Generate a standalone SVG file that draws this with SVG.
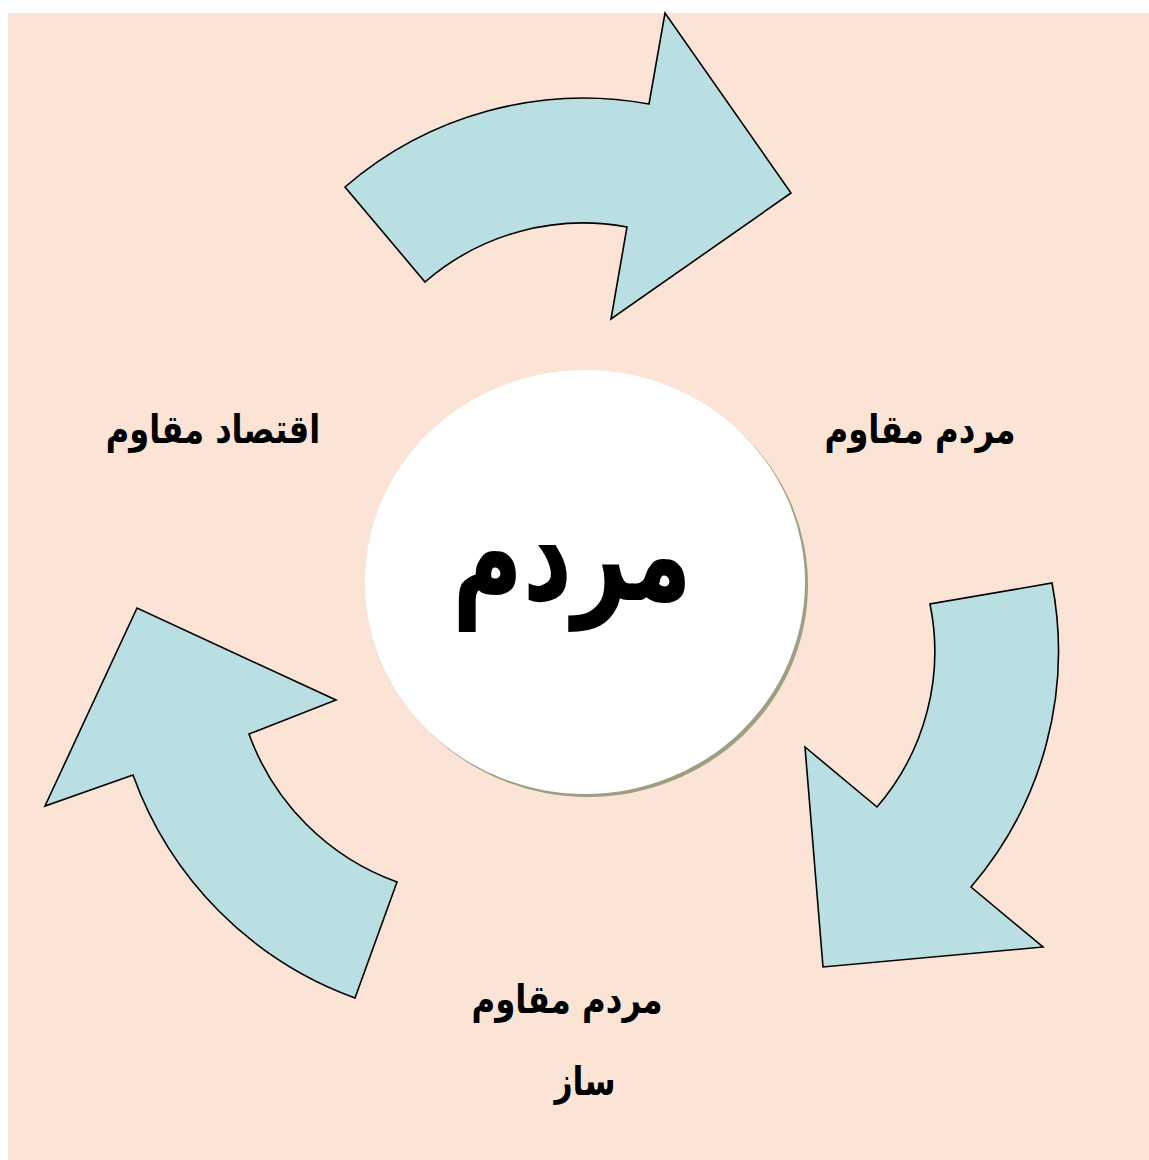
<svg xmlns="http://www.w3.org/2000/svg" width="1149" height="1160" viewBox="0 0 1149 1160">
  <style>
    .arrow { fill: #BADFE3; stroke: #000; stroke-width: 1.6; stroke-linejoin: miter; }
    .lbl { font-family: "DejaVu Sans", "Noto Sans", sans-serif; font-weight: bold; fill: #000; text-anchor: middle; direction: rtl; }
  </style>
  <rect x="8" y="13" width="1141" height="1147" fill="#FBE3D6"/>
  <g id="connectors">
    <path id="arrow-top" class="arrow" d="M 345 187 A 365 365 0 0 1 649 104 L 665 13 L 791 193 L 611 319 L 627 227 A 241 241 0 0 0 425 282 Z"/>
    <path id="arrow-right" class="arrow" d="M 1052 583 A 362 362 0 0 1 971 887 L 1043 947 L 823 967 L 805 747 L 877 807 A 238 238 0 0 0 930 604 Z"/>
    <path id="arrow-left" class="arrow" d="M 355 998 A 370 370 0 0 1 133 775 L 45 806 L 137 608 L 336 700 L 249 734 A 246 246 0 0 0 397 882 Z"/>
  </g>
  <g id="center">
    <ellipse cx="588" cy="585" rx="220" ry="212" fill="#9E9E80"/>
    <ellipse cx="585" cy="582" rx="220" ry="212" fill="#FFFFFF"/>
    <text class="lbl" transform="translate(572,600) scale(0.73,1)" x="0" y="0" font-size="132">مردم</text>
  </g>
  <g id="label-left">
    <text class="lbl" transform="translate(213,443) scale(0.8,1)" x="0" y="0" font-size="40">اقتصاد مقاوم</text>
  </g>
  <g id="label-right">
    <text class="lbl" transform="translate(920,443) scale(0.81,1)" x="0" y="0" font-size="40">مردم مقاوم</text>
  </g>
  <g id="label-bottom">
    <text class="lbl" transform="translate(567,1013) scale(0.81,1)" x="0" y="0" font-size="40">مردم مقاوم</text>
    <text class="lbl" transform="translate(585,1095) scale(0.79,1)" x="0" y="0" font-size="40">ساز</text>
  </g>
</svg>
